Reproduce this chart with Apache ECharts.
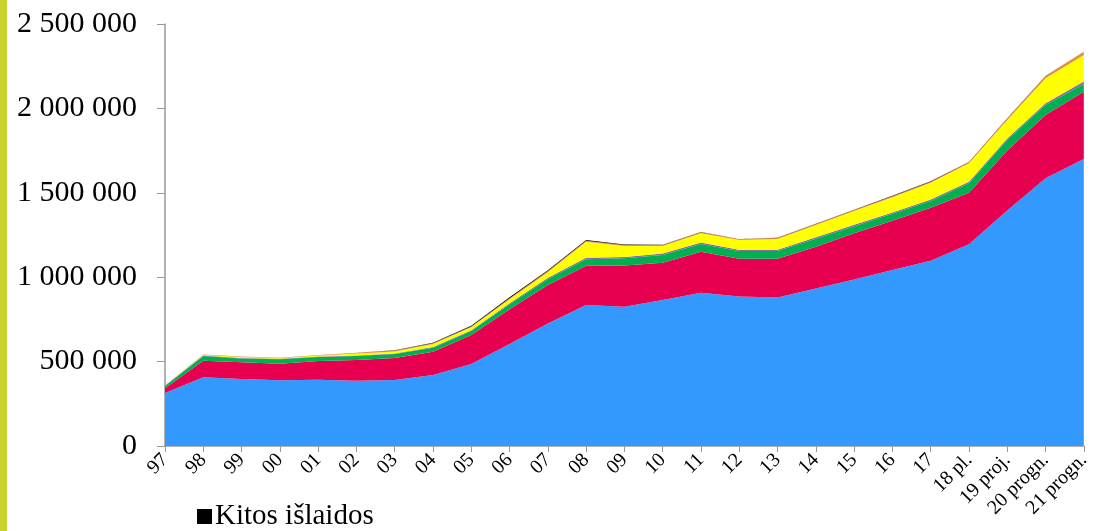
<!DOCTYPE html>
<html>
<head>
<meta charset="utf-8">
<script src="https://cdn.jsdelivr.net/npm/echarts@6/dist/echarts.min.js"></script>
<style>
  html, body { margin: 0; padding: 0; background: #fff; }
  #chart { width: 1093px; height: 531px; }
</style>
</head>
<body>
<div id="chart"></div>
<script>
// metai
var categories = ['97', '98', '99', '00', '01', '02', '03', '04', '05', '06', '07', '08', '09',
  '10', '11', '12', '13', '14', '15', '16', '17', '18 pl.', '19 proj.', '20 progn.', '21 progn.'];

// sluoksniai, tūkstančiais
var blueVals   = [314, 407, 397, 389, 393, 387, 391, 421, 486, 605, 725, 835, 825, 865, 908, 885, 879, 933, 987, 1042, 1097, 1195, 1395, 1586, 1700];
var redVals    = [28, 98, 99, 99, 110, 122, 130, 138, 172, 205, 229, 233, 245, 221, 243, 225, 231, 247, 273, 293, 315, 305, 355, 375, 399];
var greenVals  = [13, 28, 23, 26, 24, 24, 24, 23, 23, 30, 36, 38, 42, 45, 46, 45, 45, 48, 42, 41, 39, 56, 63, 59, 44];
var purpleVals = [2, 3, 3, 3, 3, 3, 3, 4, 5, 6, 7, 9, 8, 9, 8, 8, 8, 8, 8, 8, 9, 9, 9, 10, 17];
var yellowVals = [0, 3, 5, 3, 6, 12, 12, 18, 17, 24, 33, 95, 65, 45, 55, 57, 63, 73, 82, 90, 100, 110, 109, 148, 156];
var orangeVals = [1, 3, 3, 3, 3, 4, 6, 5, 5, 6, 6, 6, 6, 6, 7, 6, 6, 6, 6, 6, 6, 6, 9, 12, 20];
var kitosVals  = [0, 0, 0, 0, 0, 0, 1, 3, 5, 5, 5, 5, 2, 1, 1, 1, 2, 2, 2, 3, 3, 2, 2, 2, 2];

var yTicks = [0, 500000, 1000000, 1500000, 2000000, 2500000];

function k(arr) {
  return arr.map(function (v) { return v * 1000; });
}

function fmt(v) {
  // tarpai tarp tūkstančių
  return String(v).replace(/\B(?=(\d{3})+(?!\d))/g, ' ');
}

var layers = [
  { name: 'a', data: blueVals, color: '#3399FF' },
  { name: 'b', data: redVals, color: '#E6004F' },
  { name: 'c', data: greenVals, color: '#00B050' },
  { name: 'd', data: purpleVals, color: '#7E6FA6' },
  { name: 'e', data: yellowVals, color: '#FFFF00' },
  { name: 'f', data: orangeVals, color: '#E38D3E' },
  { name: 'Kitos išlaidos', data: kitosVals, color: '#000000' }
];

var chart = echarts.init(document.getElementById('chart'));

var option = {
  animation: false,
  backgroundColor: '#ffffff',
  grid: { left: 165, right: 3, top: 24, bottom: 85 },
  legend: {
    data: ['Kitos išlaidos'],
    left: 192,
    top: 497,
    icon: 'rect',
    itemWidth: 15,
    itemHeight: 15,
    itemGap: 4,
    textStyle: { fontFamily: 'Liberation Serif', fontSize: 29, color: '#000', padding: [0, 0, 0, -2] }
  },
  graphic: [{
    type: 'rect',
    left: 0, top: 0,
    shape: { width: 7, height: 531 },
    style: { fill: '#C9D12C' }
  }],
  xAxis: {
    type: 'category',
    data: categories,
    boundaryGap: false,
    axisLine: { lineStyle: { color: '#999', width: 1.5 } },
    axisTick: { show: true, length: 6, lineStyle: { color: '#999' } },
    axisLabel: {
      rotate: 45,
      margin: 11,
      interval: 0,
      fontFamily: 'Liberation Serif',
      fontSize: 20,
      color: '#000'
    }
  },
  yAxis: {
    type: 'value',
    min: yTicks[0],
    max: yTicks[yTicks.length - 1],
    interval: 500000,
    splitLine: { show: false },
    axisLine: { show: true, lineStyle: { color: '#999', width: 1.5 } },
    axisTick: { show: true, length: 8, lineStyle: { color: '#999' } },
    axisLabel: {
      margin: 28,
      fontFamily: 'Liberation Serif',
      fontSize: 30,
      color: '#000',
      formatter: fmt
    }
  },
  series: layers.map(function (l) {
    return {
      name: l.name,
      type: 'line',
      stack: 'total',
      data: k(l.data),
      symbol: 'none',
      color: l.color,
      lineStyle: { width: 0 },
      areaStyle: { color: l.color, opacity: 1 },
      itemStyle: { color: l.color }
    };
  })
};

chart.setOption(option);
</script>
</body>
</html>
